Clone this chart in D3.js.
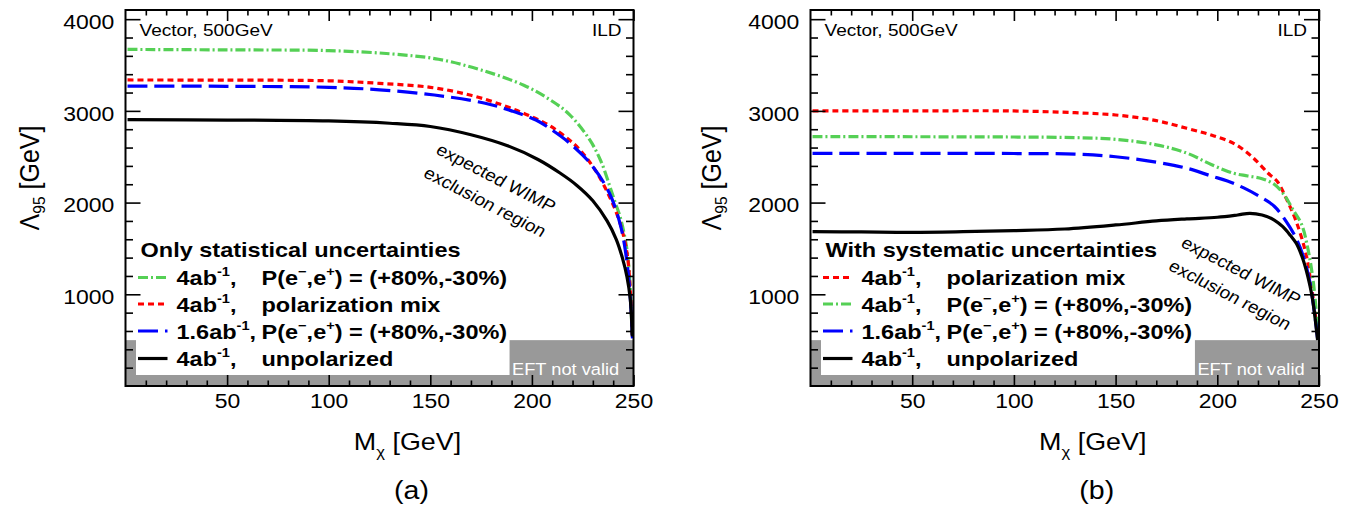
<!DOCTYPE html>
<html><head><meta charset="utf-8">
<script src="https://cdn.jsdelivr.net/npm/d3@7"></script>
<style>body{margin:0;background:#fff}svg{display:block}text{font-family:"Liberation Sans",Arial,Helvetica,sans-serif;fill:#000}</style>
</head><body>
<svg id="c" width="1361" height="508"></svg>
<script>
// ---------------- data ----------------
const xMajorTicks = [50, 100, 150, 200, 250];
const yMajorTicks = [1000, 2000, 3000, 4000];
const eftLimit = 500;      // Lambda below which EFT is not valid
const eftLegendEdge = 189; // M where the legend box ends / grey box shows

// (a) statistical only
const statGreenM = [1, 50, 100, 131, 154, 175, 196, 209, 218.5, 228.5, 234, 238.4, 241, 243.4, 245.5, 247, 248.3, 249.3];
const statGreenL = [3670, 3665, 3657, 3621, 3563, 3446, 3280, 3120, 2960, 2683, 2450, 2173, 2000, 1846, 1650, 1450, 1100, 560];
const statRedM = [1, 50, 100, 125, 150, 170, 186, 198.5, 209, 218, 223, 231, 238.5, 243.3, 246.8, 248.5, 249.4];
const statRedL = [3337, 3335, 3328, 3300, 3257, 3170, 3060, 2950, 2835, 2690, 2590, 2360, 2050, 1780, 1450, 1013, 560];
const statBlueM = [1, 50, 100, 125, 152, 177, 190, 202, 210, 219, 229, 238, 243.5, 246.5, 248.3, 249.5];
const statBlueL = [3271, 3268, 3257, 3230, 3173, 3083, 3000, 2900, 2790, 2640, 2420, 2110, 1760, 1400, 1000, 520];
const statBlackM = [1, 50, 100, 130, 150, 170, 188, 203, 214, 222, 230, 237, 241.5, 244.5, 246.8, 248.4, 249.4];
const statBlackL = [2905, 2900, 2890, 2865, 2830, 2740, 2620, 2470, 2320, 2190, 2020, 1800, 1600, 1400, 1190, 950, 540];

// (b) with systematics
const sysRedM = [1, 50, 100, 130, 150, 170, 185, 197, 208, 217, 225, 229.5, 234, 238.7, 243.5, 246.2, 247.8, 249.3];
const sysRedL = [2999, 3000, 2999, 2980, 2955, 2894, 2810, 2737, 2646, 2501, 2320, 2230, 2040, 1800, 1450, 1100, 850, 560];
const sysGreenM = [1, 50, 100, 130, 150, 170, 185, 197, 208, 215, 222, 228, 233, 237, 241.5, 244.5, 246.8, 248.3, 249.4];
const sysGreenL = [2719, 2718, 2715, 2708, 2690, 2630, 2540, 2415, 2320, 2290, 2260, 2200, 2080, 1930, 1760, 1500, 1200, 900, 560];
const sysBlueM = [1, 50, 100, 130, 150, 170, 185, 197, 205, 213, 221, 228, 234, 239, 242.5, 245.3, 246.5, 248, 249.4];
const sysBlueL = [2537, 2536, 2535, 2528, 2500, 2440, 2375, 2290, 2235, 2160, 2064, 1960, 1790, 1600, 1400, 1156, 1000, 760, 500];
const sysBlackM = [1, 25, 50, 75, 100, 125, 150, 170, 185, 200, 210, 216, 222, 228, 232.2, 236, 238.8, 241.5, 243.7, 245.5, 246.8, 248.2, 249.3];
const sysBlackL = [1683, 1680, 1676, 1683, 1694, 1712, 1756, 1800, 1822, 1840, 1865, 1883, 1865, 1810, 1737, 1640, 1556, 1420, 1265, 1100, 950, 720, 500];

const legendTitleA = "Only statistical uncertainties";
const legendTitleB = "With systematic uncertainties";
const lumiLabels = ["4ab", "1.6ab"];
const cornerLeft = "Vector, 500GeV";
const cornerRight = "ILD";

// ---------------- styles ----------------
const SX = 1.12; // horizontal stretch of the original raster
const styles = {
  green: {color: "#55d055", dash: "10,3,2,3"},
  red:   {color: "#ff0000", dash: "6,4"},
  blue:  {color: "#0000ff", dash: "20,7"},
  black: {color: "#000000", dash: null}
};
const polText = [{t:"P(e"},{t:"\u2212",sup:true},{t:",e"},{t:"+",sup:true},{t:") = (+80%,-30%)"}];
const lumi = l => [{t:l},{t:"-1",sup:true},{t:","}];

const panels = [
  {x0: 125.5, x1: 633.5, letter: "(a)", title: legendTitleA,
   ylabX: 30, annot: [[496, 178], [485, 202]],
   series: [
     {M: statGreenM, L: statGreenL, s: "green", lum: lumiLabels[0], txt: polText},
     {M: statRedM, L: statRedL, s: "red", lum: lumiLabels[0], txt: [{t:"polarization mix"}]},
     {M: statBlueM, L: statBlueL, s: "blue", lum: lumiLabels[1], txt: polText},
     {M: statBlackM, L: statBlackL, s: "black", lum: lumiLabels[0], txt: [{t:"unpolarized"}]}
   ]},
  {x0: 810.5, x1: 1319, letter: "(b)", title: legendTitleB,
   ylabX: 712, annot: [[1241, 271], [1230, 295]],
   series: [
     {M: sysRedM, L: sysRedL, s: "red", lum: lumiLabels[0], txt: [{t:"polarization mix"}]},
     {M: sysGreenM, L: sysGreenL, s: "green", lum: lumiLabels[0], txt: polText},
     {M: sysBlueM, L: sysBlueL, s: "blue", lum: lumiLabels[1], txt: polText},
     {M: sysBlackM, L: sysBlackL, s: "black", lum: lumiLabels[0], txt: [{t:"unpolarized"}]}
   ]}
];

const yTop = 10, yBot = 386;
const svg = d3.select("#c");

function rich(parent, x, y, parts, size, o = {}) {
  const t = parent.append("text")
    .attr("transform", `translate(${x},${y}) scale(${SX},1) rotate(${o.rotate || 0})`)
    .attr("font-size", size)
    .attr("text-anchor", o.anchor || "start");
  if (o.bold) t.attr("font-weight", "bold");
  if (o.fill) t.style("fill", o.fill);
  if (o.baseline) t.attr("dominant-baseline", o.baseline);
  let shift = 0;
  parts.forEach(p => {
    const target = p.sup ? -size * 0.42 : p.sub ? size * 0.3 : 0;
    const ts = t.append("tspan").attr("dy", target - shift).text(p.t);
    if (p.sup || p.sub) ts.attr("font-size", size * 0.62);
    shift = target;
  });
  return t;
}

panels.forEach(P => {
  const x = d3.scaleLinear().domain([0, 250]).range([P.x0, P.x1]);
  const y = d3.scaleLinear().domain([0, 4100]).range([yBot, yTop]);
  const g = svg.append("g");

  // EFT not valid region
  g.append("rect").attr("x", x(0)).attr("y", y(eftLimit))
    .attr("width", x(250) - x(0)).attr("height", y(0) - y(eftLimit)).attr("fill", "#999999");

  // curves
  const line = d3.line().x(d => x(d[0])).y(d => y(d[1])).curve(d3.curveCatmullRom.alpha(0.5));
  P.series.forEach(s => {
    const st = styles[s.s];
    const pts = s.M.map((m, i) => [m, s.L[i]]);
    const p = g.append("path").attr("d", line(pts)).attr("fill", "none")
      .attr("stroke", st.color).attr("stroke-width", 3.2);
    if (st.dash) p.attr("stroke-dasharray", st.dash);
  });

  // legend box
  const lx = P.x0 + 10.5;
  g.append("rect").attr("x", lx).attr("y", 236)
    .attr("width", x(eftLegendEdge) - lx).attr("height", 375 - 236).attr("fill", "#fff");
  rich(g, P.x0 + 15, 257, [{t: P.title}], 21, {bold: true});
  const rowsY = [285, 311.5, 338.5, 366];
  P.series.forEach((s, i) => {
    const st = styles[s.s];
    const ly = rowsY[i] - 7.5;
    const l = g.append("line").attr("x1", P.x0 + 12.5).attr("x2", P.x0 + 42).attr("y1", ly).attr("y2", ly)
      .attr("stroke", st.color).attr("stroke-width", 3.2);
    if (st.dash) l.attr("stroke-dasharray", st.dash);
    rich(g, P.x0 + 51, rowsY[i], lumi(s.lum), 21, {bold: true});
    rich(g, P.x0 + 136, rowsY[i], s.txt, 21, {bold: true});
  });

  // EFT text
  rich(g, x(eftLegendEdge) + 2.5, 375, [{t: "EFT not valid"}], 16.3, {fill: "#ffffff"});

  // annotation
  rich(g, P.annot[0][0], P.annot[0][1], [{t: "expected WIMP"}], 17, {anchor: "middle", rotate: 30, baseline: "central"});
  rich(g, P.annot[1][0], P.annot[1][1], [{t: "exclusion region"}], 17, {anchor: "middle", rotate: 30, baseline: "central"});

  // corner labels
  rich(g, P.x0 + 14, 36, [{t: cornerLeft}], 17);
  rich(g, P.x1 - 12, 36, [{t: cornerRight}], 17, {anchor: "end"});

  // axes (ticks inside on all four sides)
  const xMinor = d3.range(10, 250, 10).filter(v => v % 50 !== 0);
  const yMinor = d3.range(200, 4100, 200).filter(v => v % 1000 !== 0);
  const axB = g.append("g").attr("transform", `translate(0,${yBot})`)
    .call(d3.axisBottom(x).tickValues(xMajorTicks).tickSize(-11).tickSizeOuter(0).tickPadding(7).tickFormat(d3.format("d")));
  g.append("g").attr("transform", `translate(0,${yBot})`)
    .call(d3.axisBottom(x).tickValues(xMinor).tickSize(-5.5).tickSizeOuter(0).tickFormat(""));
  g.append("g").attr("transform", `translate(0,${yTop})`)
    .call(d3.axisTop(x).tickValues(xMajorTicks).tickSize(-11).tickSizeOuter(0).tickFormat(""));
  g.append("g").attr("transform", `translate(0,${yTop})`)
    .call(d3.axisTop(x).tickValues(xMinor).tickSize(-5.5).tickSizeOuter(0).tickFormat(""));
  const axL = g.append("g").attr("transform", `translate(${P.x0},0)`)
    .call(d3.axisLeft(y).tickValues(yMajorTicks).tickSize(-15).tickSizeOuter(0).tickPadding(10).tickFormat(d3.format("d")));
  g.append("g").attr("transform", `translate(${P.x0},0)`)
    .call(d3.axisLeft(y).tickValues(yMinor).tickSize(-7.5).tickSizeOuter(0).tickFormat(""));
  g.append("g").attr("transform", `translate(${P.x1},0)`)
    .call(d3.axisRight(y).tickValues(yMajorTicks).tickSize(-15).tickSizeOuter(0).tickFormat(""));
  g.append("g").attr("transform", `translate(${P.x1},0)`)
    .call(d3.axisRight(y).tickValues(yMinor).tickSize(-7.5).tickSizeOuter(0).tickFormat(""));
  g.selectAll(".domain").remove();
  g.selectAll(".tick line").attr("stroke", "#000").attr("stroke-width", 1.6);
  axB.selectAll("text").attr("font-size", 20.5).attr("font-family", null)
    .attr("transform", `scale(${SX},1)`).style("fill", "#000");
  axL.selectAll("text").attr("font-size", 20.5).attr("font-family", null)
    .attr("dy", "0.45em").attr("transform", `scale(${SX},1)`).style("fill", "#000");

  // frame
  g.append("rect").attr("x", P.x0).attr("y", yTop).attr("width", P.x1 - P.x0).attr("height", yBot - yTop)
    .attr("fill", "none").attr("stroke", "#000").attr("stroke-width", 2);

  // axis titles
  rich(g, (P.x0 + P.x1) / 2 + 28, 450, [{t: "M"}, {t: "\u03c7", sub: true}, {t: " [GeV]"}], 24, {anchor: "middle"});
  rich(g, P.ylabX, 178, [{t: "\u039b"}, {t: "95", sub: true}, {t: " [GeV]"}], 25, {anchor: "middle", rotate: -90, baseline: "central"});
  rich(g, (P.x0 + P.x1) / 2 + 32, 499, [{t: P.letter}], 25.5, {anchor: "middle"});
});
</script>
</body></html>
